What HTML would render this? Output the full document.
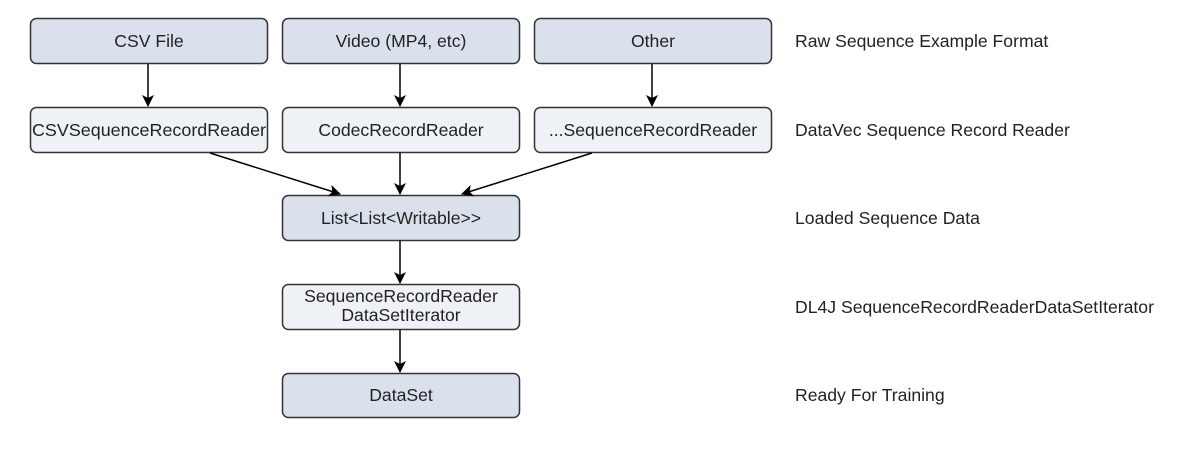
<!DOCTYPE html>
<html><head><style>
body{margin:0;width:1180px;height:454px;background:#fff;font-family:"Liberation Sans",sans-serif;}
</style></head><body>
<svg width="1180" height="454" xmlns="http://www.w3.org/2000/svg" font-family="Liberation Sans, sans-serif" font-size="17.6">
<defs><marker id="a" markerWidth="12" markerHeight="12" refX="11" refY="6" orient="auto" markerUnits="userSpaceOnUse"><path d="M0,0 L12,6 L0,12 L3,6 z" fill="#000"/></marker></defs>
<g stroke="#333" stroke-width="1.5">
<rect x="30.5" y="18.5" width="237" height="45" rx="6" fill="#dae0ec"/>
<rect x="282.5" y="18.5" width="237" height="45" rx="6" fill="#dae0ec"/>
<rect x="534.5" y="18.5" width="237" height="45" rx="6" fill="#dae0ec"/>
<rect x="30.5" y="107.5" width="237" height="45" rx="6" fill="#eef1f6"/>
<rect x="282.5" y="107.5" width="237" height="45" rx="6" fill="#eef1f6"/>
<rect x="534.5" y="107.5" width="237" height="45" rx="6" fill="#eef1f6"/>
<rect x="282.5" y="195.5" width="237" height="45" rx="6" fill="#dae0ec"/>
<rect x="282.5" y="284.5" width="237" height="45" rx="6" fill="#eef1f6"/>
<rect x="282.5" y="373.5" width="237" height="44" rx="6" fill="#dae0ec"/>
</g>
<g stroke="#000" stroke-width="1.5" marker-end="url(#a)">
<line x1="148" y1="64" x2="148" y2="106"/>
<line x1="400" y1="64" x2="400" y2="106"/>
<line x1="652" y1="64" x2="652" y2="106"/>
<line x1="210" y1="153" x2="340" y2="194"/>
<line x1="400" y1="153" x2="400" y2="194"/>
<line x1="592" y1="153" x2="462" y2="194"/>
<line x1="400" y1="241" x2="400" y2="283"/>
<line x1="400" y1="330" x2="400" y2="372"/>
</g>
<g text-anchor="middle" fill="#222">
<text x="149" y="47">CSV File</text>
<text x="401" y="47">Video (MP4, etc)</text>
<text x="653" y="47">Other</text>
<text x="149" y="136" textLength="234" lengthAdjust="spacingAndGlyphs">CSVSequenceRecordReader</text>
<text x="401" y="136">CodecRecordReader</text>
<text x="653" y="136">...SequenceRecordReader</text>
<text x="401" y="224">List&lt;List&lt;Writable&gt;&gt;</text>
<text x="401" y="302">SequenceRecordReader</text>
<text x="401" y="321">DataSetIterator</text>
<text x="401" y="401">DataSet</text>
</g>
<g fill="#222">
<text x="795" y="47">Raw Sequence Example Format</text>
<text x="795" y="136">DataVec Sequence Record Reader</text>
<text x="795" y="224">Loaded Sequence Data</text>
<text x="795" y="313">DL4J SequenceRecordReaderDataSetIterator</text>
<text x="795" y="401">Ready For Training</text>
</g>
</svg>
</body></html>
